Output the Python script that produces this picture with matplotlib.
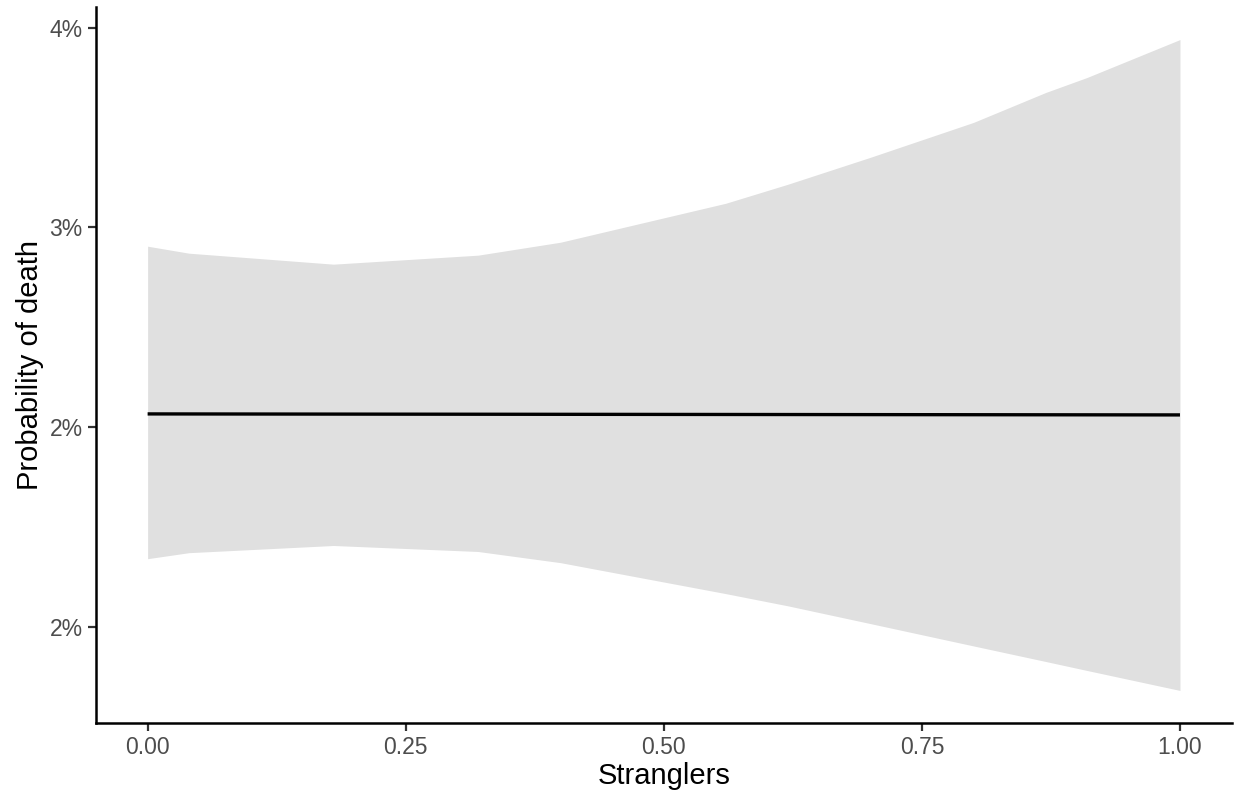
import matplotlib
matplotlib.use('Agg')
import matplotlib.pyplot as plt
from matplotlib.ticker import FixedLocator, FixedFormatter

# values
stranglers = [0.0, 0.04, 0.18, 0.32, 0.40, 0.56, 0.62, 0.70, 0.80, 0.87, 0.91, 1.0]
upper = [0.029525, 0.02935, 0.029075, 0.02930, 0.029625, 0.03060, 0.031075, 0.03175, 0.032625, 0.033375, 0.03375, 0.03470]
lower = [0.02170, 0.02185, 0.02203, 0.02188, 0.02160, 0.020825, 0.02052, 0.020075, 0.019515, 0.019125, 0.01890, 0.01840]
line_x = [0.0, 1.0]
line_y = [0.025325, 0.02530]

ytick_vals = [0.020, 0.025, 0.030, 0.035]
ytick_labels = ['2%', '2%', '3%', '4%']
xtick_vals = [0.0, 0.25, 0.5, 0.75, 1.0]
xtick_labels = ['0.00', '0.25', '0.50', '0.75', '1.00']

plt.rcParams['font.family'] = ['Liberation Sans', 'DejaVu Sans']

fig = plt.figure(figsize=(12.36, 7.96), dpi=100)
ax = fig.add_axes([96/1236, 1 - 723/796, (1231.6 - 96)/1236, (723 - 7)/796])

ax.fill_between(stranglers, lower, upper, color='#e0e0e0', linewidth=0)
ax.plot(line_x, line_y, color='black', linewidth=2.4, solid_capstyle='butt')

ax.set_xlim(-0.05, 1.05)
ax.set_ylim(0.017585, 0.035515)

ax.yaxis.set_major_locator(FixedLocator(ytick_vals))
ax.yaxis.set_major_formatter(FixedFormatter(ytick_labels))
ax.xaxis.set_major_locator(FixedLocator(xtick_vals))
ax.xaxis.set_major_formatter(FixedFormatter(xtick_labels))

for side in ['top', 'right']:
    ax.spines[side].set_visible(False)
for side in ['left', 'bottom']:
    ax.spines[side].set_linewidth(1.8)
    ax.spines[side].set_color('black')

ax.tick_params(axis='both', length=5.5, width=1.6, color='#333333',
               labelsize=16.5, labelcolor='#4d4d4d', pad=4)

ax.set_xlabel('Stranglers', fontsize=21, color='black', labelpad=2)
ax.set_ylabel('Probability of death', fontsize=21, color='black', labelpad=4)

fig.savefig('out.png', dpi=100)
